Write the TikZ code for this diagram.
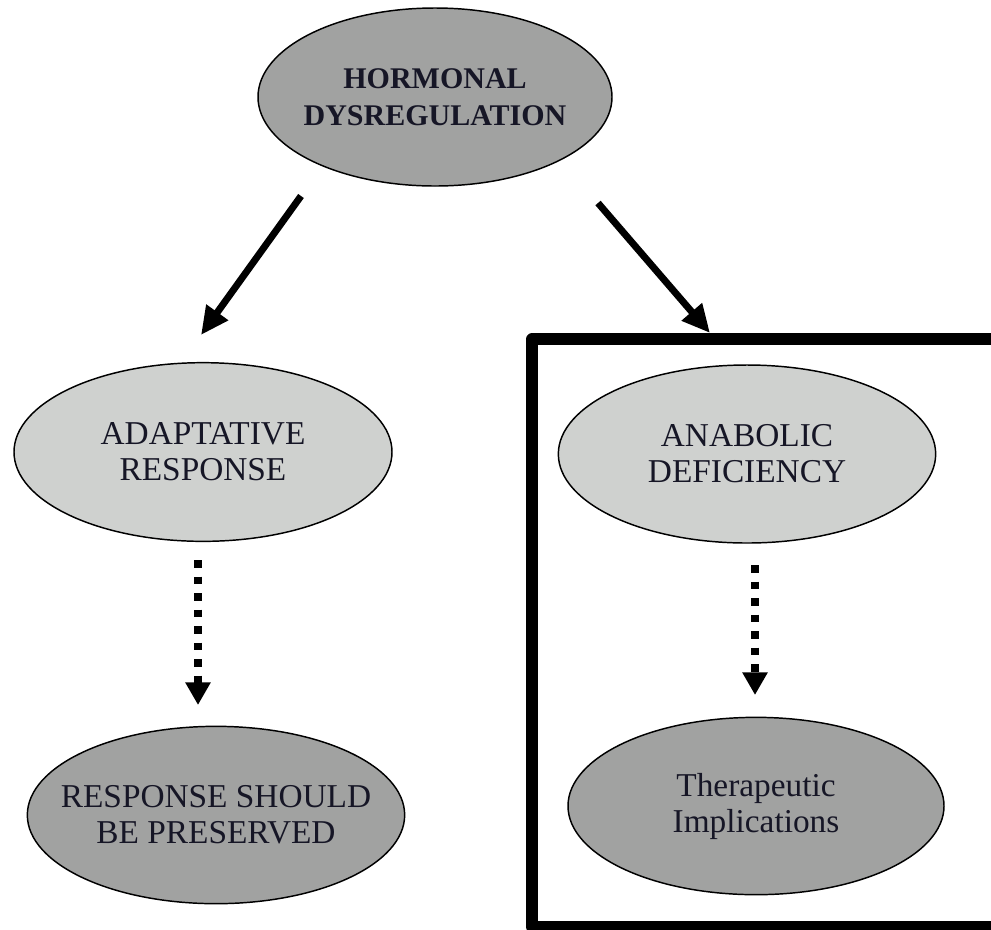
\documentclass[tikz,border=0pt]{standalone}
\usepackage{fontspec}
\setmainfont{Liberation Serif}
\usetikzlibrary{shapes.geometric,arrows.meta}
\definecolor{darkfill}{RGB}{161,162,161}
\definecolor{lightfill}{RGB}{207,209,207}
\definecolor{txt}{RGB}{22,22,38}
\tikzset{
  oval/.style={ellipse, draw=black, line width=1.1pt, inner sep=0pt},
  darkoval/.style={oval, fill=darkfill},
  lightoval/.style={oval, fill=lightfill},
  ovaltext/.style={inner sep=0pt, align=center, text=txt, font=\fontsize{25}{27}\selectfont},
  solidarrow/.style={line width=5.2pt, -{Triangle[length=21pt,width=19pt]}},
  dotarrow/.style={line width=6pt, dash pattern=on 5.8pt off 6.6pt, -{Triangle[length=17pt,width=18pt]}},
  framebox/.style={line width=8.3pt, line join=round}
}
\begin{document}
\begin{tikzpicture}[x=0.75pt,y=-0.75pt]
\useasboundingbox (0,0) rectangle (991,929);
\clip (0,0) rectangle (991,929);
\fill[white] (0,0) rectangle (991,929);

\node[darkoval, minimum width=265.5pt, minimum height=133.5pt] (hd) at (435,97) {};
\node[ovaltext, font=\fontsize{22.5}{27.5}\selectfont\bfseries] (hdt) at (hd.center) {HORMONAL\\DYSREGULATION};
\node[lightoval, minimum width=283.5pt, minimum height=134pt] (ar) at (203,452) {};
\node[ovaltext] (art) at (ar.center) {ADAPTATIVE\\RESPONSE};
\node[darkoval, minimum width=283pt, minimum height=133pt] (rp) at (216,815) {};
\node[ovaltext] (rpt) at (rp.center) {RESPONSE SHOULD\\BE PRESERVED};
\node[lightoval, minimum width=283pt, minimum height=133.5pt] (ad) at (747,454) {};
\node[ovaltext] (adt) at (ad.center) {ANABOLIC\\DEFICIENCY};
\node[darkoval, minimum width=282pt, minimum height=133pt] (ti) at (756,806) {};
\node[ovaltext] (tit) at (ti.center) {Therapeutic\\Implications};

\draw[framebox] (1010,339) -- (532,339) -- (532,927) -- (1010,927);

\coordinate (l1) at (301,196);
\coordinate (l2) at (201,335);
\coordinate (r1) at (598,203);
\coordinate (r2) at (710,333);
\draw[solidarrow] (l1) -- (l2);
\draw[solidarrow] (r1) -- (r2);

\coordinate (d1) at (198,560);
\coordinate (d2) at (198,705);
\coordinate (e1) at (755,565);
\coordinate (e2) at (755,695);
\draw[dotarrow] (d1) -- (d2);
\draw[dotarrow] (e1) -- (e2);
\end{tikzpicture}
\end{document}
